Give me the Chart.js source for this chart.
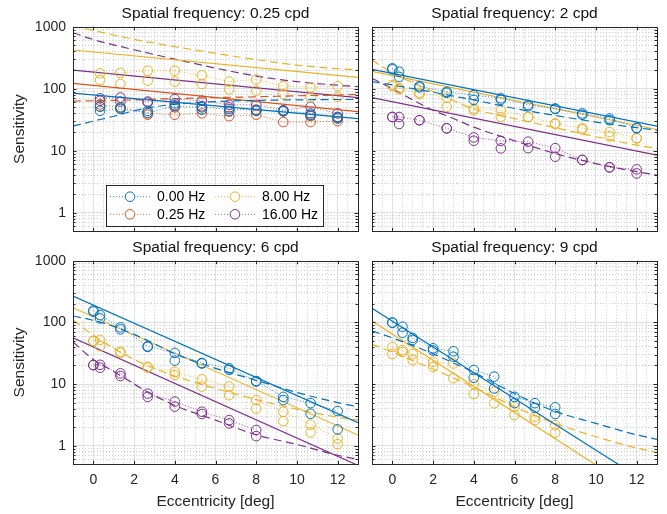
<!DOCTYPE html>
<html>
<head>
<meta charset="utf-8">
<script src="https://cdn.jsdelivr.net/npm/chart.js@4.4.1/dist/chart.umd.min.js"></script>
<style>
  body { margin: 0; background: #fff; }
  #wrap { position: relative; width: 667px; height: 514px; }
  #wrap canvas { position: absolute; left: 0; top: 0; }
</style>
</head>
<body>
<div id="wrap">
  <canvas id="p1" width="667" height="514"></canvas>
  <canvas id="p2" width="667" height="514"></canvas>
  <canvas id="p3" width="667" height="514"></canvas>
  <canvas id="p4" width="667" height="514"></canvas>
</div>
<script>
// Contrast sensitivity vs eccentricity, four spatial frequencies
const freqLabels = ['0.00 Hz', '0.25 Hz', '8.00 Hz', '16.00 Hz'];
const colors = ['#0072BD', '#D95319', '#EDB120', '#7E2F8E'];
const xTickLabels = [0, 2, 4, 6, 8, 10, 12];
const yTickLabels = [1, 10, 100, 1000];

// straight fits are given at the two x limits, model curves at modelX
const fitX = [-1, 13];
const modelX = [-1, 0, 1, 2, 3, 4, 6, 8, 10, 12, 13];

// panel 1: 0.25 cpd
const ecc1 = [0.33, 1.33, 2.67, 4, 5.33, 6.67, 8, 9.33, 10.67, 12];
const p1BlueA = [44, 47, 41, 52, 50, 47, 45, 44, 40, 35];
const p1BlueB = [52, 50, 44, 58, 46, 43, 44, 43, 37, 33];
const p1RedA = [56, 50, 40, 38, 40, 36, 38, 29, 29, 30];
const p1RedB = [51, 48, 38, 50, 46, 44, 46, 44, 36, 35];
const p1YellowA = [177, 180, 195, 195, 164, 130, 141, 110, 105, 110];
const p1YellowB = [138, 119, 135, 130, 119, 97, 93, 82, 72, 74];
const p1PurpleA = [70, 72, 62, 68, 64, 55, 55, 45, 51, 40];
const p1PurpleB = [64, 62, 60, 54, 52, 50, 45, 44, 38, 34];
const p1BlueFit = [85, 33];
const p1RedFit = [122, 42.6];
const p1YellowFit = [421, 152];
const p1PurpleFit = [200, 72];
const p1BlueModel = [25, 30, 36, 44, 51, 56, 62, 65, 66, 67, 67];
const p1RedModel = [63, 64, 65, 66, 68, 69, 72, 74, 77, 79, 81];
const p1YellowModel = [1020, 870, 735, 625, 545, 475, 372, 295, 240, 210, 200];
const p1PurpleModel = [800, 620, 510, 425, 355, 300, 215, 160, 130, 114, 108];

// panel 2: 2 cpd
const ecc2 = [0, 0.33, 1.33, 2.67, 4, 5.33, 6.67, 8, 9.33, 10.67, 12];
const p2BlueA = [213, 188, 110, 89, 79, 70, 55, 48, 40, 33, 23.5];
const p2BlueB = [205, 155, 105, 86, 66, 66, 52, 47, 38, 31, 23];
const p2YellowA = [115, 102, 86, 72, 48, 45, 35, 27.6, 23, 20, 16];
const p2YellowB = [110, 98, 82, 51, 45, 35, 35, 27, 22, 17, 15.8];
const p2PurpleA = [35, 35, 31, 23, 16.4, 14.4, 14, 11, 7.1, 5.4, 5];
const p2PurpleB = [35, 27, 31, 23, 14.5, 10.9, 11, 8, 7.1, 5.4, 4.3];
const p2BlueFit = [205, 25];
const p2YellowFit = [190, 22];
const p2PurpleFit = [72, 8.5];
const p2BlueModel = [130, 115, 100, 88, 76, 66, 48, 37, 29, 23.5, 21.5];
const p2YellowModel = [290, 180, 125, 90, 64, 47, 33, 23.5, 16.8, 12.3, 10.9];
const p2PurpleModel = [147, 100, 66, 45, 33, 24, 14.5, 9, 6.2, 4.6, 4.06];

// panel 3: 6 cpd
const ecc3 = [0, 0.33, 1.33, 2.67, 4, 5.33, 6.67, 8, 9.33, 10.67, 12];
const ecc3Purple = [0, 0.33, 1.33, 2.67, 4, 5.33, 6.67, 8];
const p3BlueA = [155, 131, 83, 41, 32, 22, 18, 11.2, 6.2, 4.9, 3.65];
const p3BlueB = [150, 116, 77, 40, 24, 21.5, 17, 11, 5.5, 3.3, 1.84];
const p3YellowA = [50, 52, 33.5, 19, 15.8, 11.9, 9.1, 5.5, 3.56, 2.2, 1.31];
const p3YellowB = [50, 41, 32, 18.5, 14, 9.1, 6.6, 4.0, 2.5, 1.64, 1.06];
const p3PurpleA = [20.3, 20.5, 14.9, 7.0, 5.2, 3.56, 2.6, 1.8];
const p3PurpleB = [20.3, 18.4, 13.5, 6.2, 4.3, 3.27, 2.3, 1.43];
const p3BlueFit = [267, 2.36];
const p3YellowFit = [173, 1.49];
const p3PurpleFit = [56, 0.48];
const p3BlueModel = [127, 108, 86, 64, 45, 31, 18, 11.5, 7.3, 5.0, 4.3];
const p3YellowModel = [109, 62, 38, 25, 18, 13.5, 8.5, 5.6, 3.9, 2.9, 2.6];
const p3PurpleModel = [48, 25, 16, 10, 6.5, 4.5, 2.6, 1.5, 1.05, 0.7, 0.6];

// panel 4: 9 cpd
const ecc4 = [0, 0.5, 1, 2, 3, 4, 5, 6, 7, 8];
const p4BlueA = [99, 85, 56, 38, 34, 16.9, 13.2, 6.2, 4.9, 4.2];
const p4BlueB = [99, 68, 52, 35, 27.7, 12.7, 8.5, 4.9, 4.1, 3.27];
const p4YellowA = [40, 35.6, 30.6, 23, 21.6, 10, 7.5, 4.3, 2.95, 2.16];
const p4YellowB = [30.6, 33, 24.5, 19, 12.4, 6.9, 4.9, 3.14, 2.6, 1.63];
const p4BlueFit = [169, 0.2];
const p4YellowFit = [105, 0.113];
const p4BlueModel = [73, 56, 42, 31, 22, 15.5, 7, 3.6, 2.3, 1.5, 1.27];
const p4YellowModel = [44, 33, 24, 17.5, 12.5, 9, 4.3, 2.3, 1.4, 0.92, 0.78];

const FONT = '"Liberation Sans", Arial, Helvetica, sans-serif';
const AXIS_COLOR = '#262626';
const W = 667, H = 514;
const X_MIN = -1, X_MAX = 13, Y_MIN = 0.5, Y_MAX = 1000;
const MARKER_R = 4.8;

// grid positions (minor x every 0.5, minor y at 2..9 of each decade)
const xGrid = [];
for (let v = X_MIN; v <= X_MAX + 1e-9; v += 0.5) xGrid.push(v);
const yGrid = [];
[0.1, 1, 10, 100].forEach(d => {
  for (let k = 1; k <= 9; k++) {
    const v = Number((k * d).toPrecision(6));
    if (v >= Y_MIN && v <= Y_MAX) yGrid.push(v);
  }
});
yGrid.push(1000);

function series(ci, ecc, a, b, fit, model) {
  return { ci, ecc, a, b, fit, model };
}

const panels = [
  {
    id: 'p1', title: 'Spatial frequency: 0.25 cpd', area: [73, 26.7, 358, 231.4],
    yLabels: true, xLabels: false, legend: true,
    series: [
      series(0, ecc1, p1BlueA, p1BlueB, p1BlueFit, p1BlueModel),
      series(1, ecc1, p1RedA, p1RedB, p1RedFit, p1RedModel),
      series(2, ecc1, p1YellowA, p1YellowB, p1YellowFit, p1YellowModel),
      series(3, ecc1, p1PurpleA, p1PurpleB, p1PurpleFit, p1PurpleModel)
    ]
  },
  {
    id: 'p2', title: 'Spatial frequency: 2 cpd', area: [372, 26.7, 657, 231.4],
    yLabels: false, xLabels: false, legend: false,
    series: [
      series(0, ecc2, p2BlueA, p2BlueB, p2BlueFit, p2BlueModel),
      series(2, ecc2, p2YellowA, p2YellowB, p2YellowFit, p2YellowModel),
      series(3, ecc2, p2PurpleA, p2PurpleB, p2PurpleFit, p2PurpleModel)
    ]
  },
  {
    id: 'p3', title: 'Spatial frequency: 6 cpd', area: [73, 260.7, 358, 464.3],
    yLabels: true, xLabels: true, legend: false,
    series: [
      series(0, ecc3, p3BlueA, p3BlueB, p3BlueFit, p3BlueModel),
      series(2, ecc3, p3YellowA, p3YellowB, p3YellowFit, p3YellowModel),
      series(3, ecc3Purple, p3PurpleA, p3PurpleB, p3PurpleFit, p3PurpleModel)
    ]
  },
  {
    id: 'p4', title: 'Spatial frequency: 9 cpd', area: [372, 260.7, 657, 464.3],
    yLabels: false, xLabels: true, legend: false,
    series: [
      series(0, ecc4, p4BlueA, p4BlueB, p4BlueFit, p4BlueModel),
      series(2, ecc4, p4YellowA, p4YellowB, p4YellowFit, p4YellowModel)
    ]
  }
];

function fade(hex, a) {
  const n = parseInt(hex.slice(1), 16);
  return `rgba(${n >> 16}, ${(n >> 8) & 255}, ${n & 255}, ${a})`;
}

function pts(xs, ys) {
  return xs.map((x, i) => ({ x, y: ys[i] }));
}

function buildDatasets(list) {
  const sets = [];
  list.forEach(s => {
    const c = colors[s.ci];
    sets.push({
      data: pts(s.ecc, s.a), showLine: true, borderColor: fade(c, 0.8), borderWidth: 1,
      borderDash: [1, 2], pointRadius: MARKER_R, pointBorderWidth: 1,
      pointBorderColor: c, pointBackgroundColor: 'rgba(0,0,0,0)'
    });
    sets.push({
      data: pts(s.ecc, s.b), showLine: false, pointRadius: MARKER_R, pointBorderWidth: 1,
      pointBorderColor: c, pointBackgroundColor: 'rgba(0,0,0,0)'
    });
    sets.push({
      data: pts(fitX, s.fit), showLine: true, borderColor: c, borderWidth: 1.2, pointRadius: 0
    });
    sets.push({
      data: pts(modelX, s.model), showLine: true, borderColor: c, borderWidth: 1.2,
      borderDash: [8, 4.5], pointRadius: 0, cubicInterpolationMode: 'monotone'
    });
  });
  return sets;
}

const isEdgeX = v => Math.abs(v - X_MIN) < 1e-9 || Math.abs(v - X_MAX) < 1e-9;
const isEdgeY = v => v === Y_MIN || v === Y_MAX;

// box, inward ticks, panel title, legend
const framePlugin = {
  id: 'frame',
  afterDatasetsDraw(chart, args, opts) {
    const { ctx, chartArea: a, scales } = chart;
    ctx.save();
    ctx.strokeStyle = AXIS_COLOR;
    ctx.lineWidth = 1;
    ctx.beginPath();
    yGrid.forEach(v => {
      if (isEdgeY(v)) return;
      const y = Math.round(scales.y.getPixelForValue(v)) + 0.5;
      const len = yTickLabels.includes(v) ? 3.5 : 2.5;
      ctx.moveTo(a.left, y); ctx.lineTo(a.left + len, y);
      ctx.moveTo(a.right, y); ctx.lineTo(a.right - len, y);
    });
    xTickLabels.forEach(v => {
      const x = Math.round(scales.x.getPixelForValue(v)) + 0.5;
      ctx.moveTo(x, a.bottom); ctx.lineTo(x, a.bottom - 3.5);
      ctx.moveTo(x, a.top); ctx.lineTo(x, a.top + 3.5);
    });
    ctx.stroke();
    ctx.strokeRect(Math.round(a.left) + 0.5, Math.round(a.top) + 0.5,
      Math.round(a.right) - Math.round(a.left), Math.round(a.bottom) - Math.round(a.top));

    ctx.fillStyle = '#111';
    ctx.font = `15.5px ${FONT}`;
    ctx.textAlign = 'center';
    ctx.textBaseline = 'alphabetic';
    ctx.fillText(opts.text, (a.left + a.right) / 2, a.top - 8.3);

    if (opts.legend) {
      const bx = 106.5, by = 185.5, bw = 217, bh = 41;
      ctx.fillStyle = '#fff';
      ctx.fillRect(bx, by, bw, bh);
      ctx.strokeStyle = AXIS_COLOR;
      ctx.strokeRect(bx, by, bw, bh);
      const cols = [110, 215], rows = [196.7, 214.3];
      ctx.font = `14px ${FONT}`;
      ctx.textAlign = 'left';
      ctx.textBaseline = 'middle';
      freqLabels.forEach((lab, i) => {
        const x0 = cols[Math.floor(i / 2)], y = rows[i % 2];
        const c = colors[i];
        ctx.setLineDash([1, 2]);
        ctx.strokeStyle = fade(c, 0.8);
        ctx.beginPath(); ctx.moveTo(x0, y); ctx.lineTo(x0 + 40, y); ctx.stroke();
        ctx.setLineDash([]);
        ctx.fillStyle = '#fff';
        ctx.beginPath(); ctx.arc(x0 + 20, y, MARKER_R, 0, Math.PI * 2); ctx.fill();
        ctx.strokeStyle = c;
        ctx.stroke();
        ctx.fillStyle = '#000';
        ctx.fillText(lab, x0 + 47, y + 0.5);
      });
    }
    ctx.restore();
  }
};

function makeChart(p) {
  const [L, T, R, B] = p.area;
  const yW = p.yLabels ? 70 : 10;
  const padLeft = L - yW;
  const padBottom = p.xLabels ? 3 : 0;
  const xH = H - padBottom - B;

  new Chart(document.getElementById(p.id), {
    type: 'scatter',
    data: { datasets: buildDatasets(p.series) },
    options: {
      responsive: false,
      animation: false,
      events: [],
      layout: { padding: { left: padLeft, top: T, right: W - R, bottom: padBottom } },
      plugins: {
        legend: { display: false },
        tooltip: { enabled: false },
        frame: { text: p.title, legend: p.legend }
      },
      scales: {
        x: {
          type: 'linear', min: X_MIN, max: X_MAX,
          afterBuildTicks: s => { s.ticks = xGrid.map(v => ({ value: v })); },
          afterFit: s => { s.height = xH; },
          grid: {
            drawTicks: false, lineWidth: 1,
            color: c => {
              const v = c.tick.value;
              if (isEdgeX(v)) return 'rgba(0,0,0,0)';
              return Math.abs(v % 2) < 1e-9 ? '#e0e0e0' : '#cdcdcd';
            }
          },
          border: {
            display: false,
            dash: c => (c.type === 'tick' && Math.abs(c.tick.value % 2) > 1e-9) ? [1, 2] : []
          },
          ticks: {
            display: p.xLabels, autoSkip: false, maxRotation: 0, padding: 7,
            color: AXIS_COLOR, font: { family: FONT, size: 14 },
            callback: v => xTickLabels.includes(v) ? String(v) : ''
          },
          title: {
            display: p.xLabels, text: 'Eccentricity [deg]', color: AXIS_COLOR,
            font: { family: FONT, size: 15.5 }, padding: { top: 0, bottom: 0 }
          }
        },
        y: {
          type: 'logarithmic', min: Y_MIN, max: Y_MAX,
          afterBuildTicks: s => { s.ticks = yGrid.map(v => ({ value: v })); },
          afterFit: s => { s.width = yW; },
          grid: {
            drawTicks: false, lineWidth: 1,
            color: c => {
              const v = c.tick.value;
              if (isEdgeY(v)) return 'rgba(0,0,0,0)';
              return yTickLabels.includes(v) ? '#e0e0e0' : '#cdcdcd';
            }
          },
          border: {
            display: false,
            dash: c => (c.type === 'tick' && !yTickLabels.includes(c.tick.value)) ? [1, 2] : []
          },
          ticks: {
            display: p.yLabels, autoSkip: false, padding: 7,
            color: AXIS_COLOR, font: { family: FONT, size: 14 },
            callback: v => yTickLabels.includes(v) ? String(v) : ''
          },
          title: {
            display: p.yLabels, text: 'Sensitivity', color: AXIS_COLOR,
            font: { family: FONT, size: 15.5 }, padding: { top: 7.7, bottom: 0 }
          }
        }
      }
    },
    plugins: [framePlugin]
  });
}

panels.forEach(makeChart);
</script>
</body>
</html>
